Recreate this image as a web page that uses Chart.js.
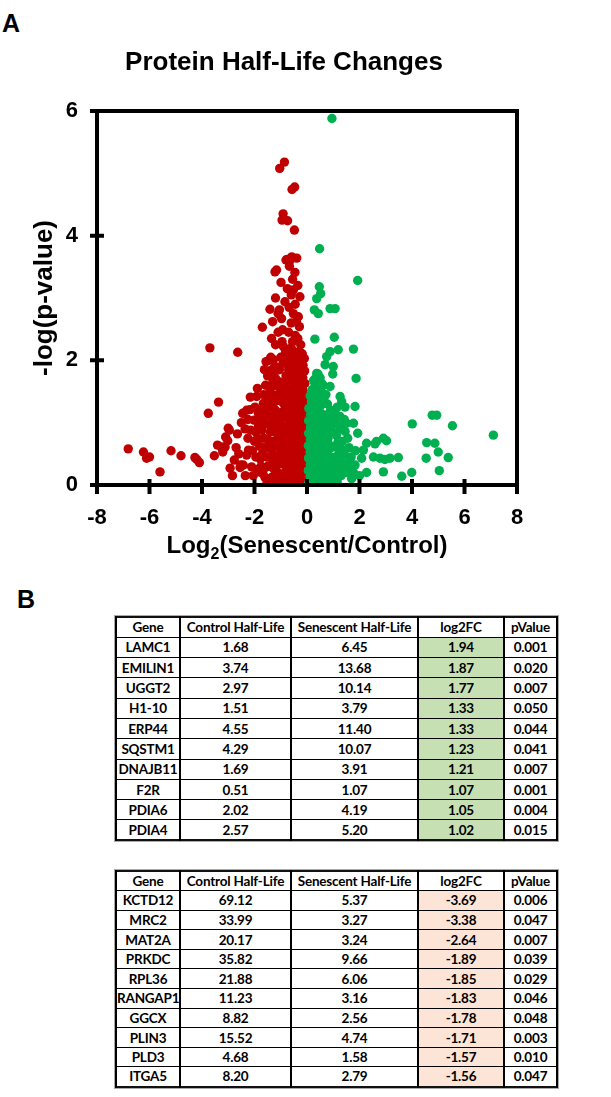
<!DOCTYPE html>
<html>
<head>
<meta charset="utf-8">
<script src="https://cdn.jsdelivr.net/npm/chart.js@4.4.0/dist/chart.umd.min.js"></script>
<style>
  body { margin: 0; width: 611px; height: 1097px; background: #fff; position: relative; overflow: hidden; font-family: "Liberation Sans", Arial, sans-serif; }
  #wrap { position: absolute; left: 0; top: 0; width: 611px; height: 575px; }
  .panel { position: absolute; font-weight: bold; font-size: 25px; line-height: 25px; }
  table.hl { position: absolute; left: 115px; width: 441px; border-collapse: collapse; table-layout: fixed;
             font-family: Lato, "Liberation Sans", sans-serif; font-weight: bold; font-size: 13.5px; letter-spacing: -0.2px; color: #000;
             border: 2px solid #111; outline: 1px solid #aaa; }
  table.hl td { border-top: 1px solid #000; border-bottom: 1px solid #000; border-left: 2px solid #000; border-right: 2px solid #000;
                text-align: center; padding: 0; white-space: nowrap; overflow: hidden; }
</style>
</head>
<body>
<div class="panel" style="left:2px;top:11px">A</div>
<div class="panel" style="left:17px;top:587px">B</div>
<div id="wrap"><canvas id="volcano" width="611" height="575"></canvas></div>
<table class="hl" id="tblUp" style="top:616px"></table>
<table class="hl" id="tblDown" style="top:870px"></table>

<script>
// axis ticks
const xTicks = [-8, -6, -4, -2, 0, 2, 4, 6, 8];
const yTicks = [0, 2, 4, 6];

// log2FC > 0 (longer half-life in senescent) - green
const upPts = [
  [0.95,5.88],[0.48,3.79],[1.93,3.28],[0.47,3.18],[0.52,3.07],[0.37,2.99],[0.28,2.81],[0.43,2.75],[0.88,2.83],[1.07,2.83],
  [0.30,2.34],[1.04,2.37],[1.19,2.17],[1.77,2.18],[0.88,2.14],[0.75,2.06],[0.69,1.93],[1.00,1.90],[0.98,1.78],[1.87,1.71],
  [0.37,1.79],[0.30,1.66],[0.56,1.63],[0.88,1.58],[0.24,1.52],[1.26,1.42],[1.32,1.34],[1.83,1.26],
  [4.77,1.12],[4.94,1.12],[4.01,0.98],[5.54,0.95],[7.10,0.80],[1.77,0.99],[1.93,0.83],[4.56,0.68],[4.87,0.67],[5.00,0.53],
  [4.54,0.43],[5.38,0.44],[5.04,0.23],[3.99,0.20],[3.61,0.14],[3.48,0.44],[3.16,0.43],[3.03,0.71],[2.91,0.75],[2.65,0.70],
  [2.59,0.66],[2.27,0.67],[2.15,0.56],[2.08,0.43],[2.27,0.20],[2.91,0.21],[2.78,0.43],[2.53,0.45],[2.97,0.41],[1.77,0.20],
  [1.83,0.32],[1.57,0.37],[1.38,0.56],[1.32,0.47],[1.19,0.70],[1.51,0.99],[1.45,0.86],[1.07,1.15],[1.19,1.10],
  [0.95,0.30],[1.05,0.12],[1.10,0.45],[1.20,0.25],[1.30,0.15],[0.98,0.85],[1.02,1.00],[1.12,0.80],[0.90,1.20],[0.78,1.30],
  [0.72,1.45],[0.92,0.60],[1.05,0.62],[1.15,1.25],[1.25,1.10],[1.42,1.05],[1.50,0.20],[1.62,0.28],[0.70,1.00],[0.80,0.92],[0.85,1.10],
  [0.95,0.05],[0.98,0.20],[0.92,0.45],[0.80,0.75],[0.88,0.85],[0.75,0.95],[0.70,1.12],[0.60,1.30],[0.55,1.50],[0.62,1.60],
  [0.65,1.40],[0.35,1.72],[0.25,1.68],[1.15,0.05],[1.22,0.52],[1.32,0.35],[1.42,0.50],[1.35,0.70],[1.28,0.90],[1.45,1.25],
  [1.60,0.60],[1.70,0.10],[1.10,0.98],[1.55,0.75],[1.68,0.45],[1.25,0.60],[1.40,0.25],[1.12,0.35],[1.85,0.55],[2.00,0.15],[1.35,0.95],
  [0.06,0.03],[0.25,0.02],[0.45,0.04],[0.64,0.03],[0.84,0.05],
  [0.12,0.13],[0.33,0.12],[0.53,0.14],[0.73,0.12],[0.90,0.14],
  [0.05,0.23],[0.24,0.22],[0.44,0.24],[0.63,0.22],[0.83,0.23],
  [0.13,0.33],[0.33,0.32],[0.54,0.34],[0.74,0.32],[0.92,0.33],
  [0.06,0.43],[0.25,0.42],[0.45,0.44],[0.65,0.42],[0.85,0.44],
  [0.12,0.53],[0.34,0.52],[0.55,0.54],[0.75,0.52],
  [0.05,0.63],[0.24,0.62],[0.45,0.64],[0.66,0.62],[0.86,0.64],
  [0.13,0.73],[0.34,0.72],[0.55,0.74],[0.72,0.72],
  [0.06,0.83],[0.25,0.82],[0.46,0.84],[0.63,0.82],
  [0.13,0.93],[0.34,0.92],[0.54,0.94],
  [0.06,1.03],[0.26,1.02],[0.46,1.04],[0.62,1.02],
  [0.14,1.13],[0.35,1.12],[0.55,1.14],
  [0.07,1.23],[0.27,1.22],[0.47,1.24],
  [0.17,1.33],[0.38,1.32],
  [0.12,1.43],[0.32,1.44],[0.50,1.42],
  [0.20,1.53],[0.40,1.52],
  [0.30,1.63],[0.45,1.68],[0.42,1.78],[0.50,1.72]
];

// log2FC < 0 (shorter half-life in senescent) - red
const downPts = [
  [-0.86,5.18],[-1.04,5.08],[-0.57,4.74],[-0.47,4.78],[-0.91,4.35],[-0.95,4.25],[-0.74,4.24],[-0.48,4.09],
  [-0.75,3.62],[-0.65,3.60],[-0.80,3.61],[-0.67,3.51],[-0.58,3.66],[-0.46,3.41],[-0.39,3.64],[-1.22,3.42],[-1.16,3.45],
  [-0.99,3.25],[-0.52,3.13],[-0.27,3.02],[-0.84,2.94],[-1.05,2.81],[-0.97,2.67],[-0.93,2.49],[-0.90,2.22],[-0.33,2.70],
  [-0.29,2.54],[-0.24,2.25],[-0.20,2.11],
  [-6.81,0.58],[-6.23,0.53],[-6.11,0.43],[-6.00,0.45],[-5.60,0.21],[-5.18,0.55],[-4.80,0.47],[-4.27,0.44],[-4.20,0.41],[-4.10,0.36],
  [-3.70,2.20],[-3.76,1.15],[-3.37,1.33],[-3.53,0.47],[-3.41,0.64],[-3.21,0.53],[-3.12,0.61],[-3.02,0.71],[-2.96,0.88],[-2.93,0.27],
  [-2.84,0.15],[-2.77,0.40],[-3.00,0.91],[-3.10,0.77],[-3.27,0.61],
  [-2.64,2.13],[-2.45,1.15],[-2.36,0.90],[-2.43,0.32],[-2.23,0.56],[-2.17,1.21],[-2.11,0.29],[-2.02,1.04],[-1.89,1.55],[-1.92,1.42],
  [-1.85,0.94],[-1.82,0.21],[-2.16,1.41],[-2.52,0.32],
  [-1.70,2.53],[-1.66,1.31],[-1.56,1.98],[-1.54,1.34],[-1.60,0.12],[-1.54,0.45],[-1.47,0.72],[-1.41,2.82],[-1.38,0.94],[-1.31,2.62],
  [-1.28,2.01],[-1.26,1.78],[-1.09,1.58],[-1.09,0.03],
  [-1.45,2.00],[-1.38,2.05],[-1.33,1.85],[-1.22,1.90],[-1.18,1.70],[-1.25,1.60],[-1.12,1.45],[-1.30,1.30],[-1.20,1.20],[-1.42,1.10],
  [-1.35,0.98],[-1.15,1.00],[-1.25,0.85],[-1.45,0.60],[-1.30,0.50],[-1.20,0.62],[-1.40,0.30],[-1.25,0.25],[-1.35,0.12],[-1.15,0.08],
  [-1.05,0.35],[-1.10,0.75],[-1.05,1.15],[-1.00,1.35],[-1.02,1.65],[-1.05,1.85],[-1.00,2.05],[-0.95,2.30],[-1.10,2.45],[-0.98,0.55],
  [-1.00,0.15],[-1.65,0.75],[-1.70,0.50],[-1.75,0.30],[-1.60,0.98],[-1.55,1.15],[-1.72,1.05],[-1.80,0.62],[-1.95,0.45],[-2.00,0.70],
  [-1.90,0.25],[-2.05,0.15],[-2.25,0.75],[-2.30,0.48],[-2.60,0.50],[-2.55,0.28],[-2.70,0.60],[-2.50,1.00],[-2.30,1.20],[-2.25,1.05],
  [-1.85,1.15],[-1.75,1.20],[-1.58,1.60],[-1.50,1.75],[-1.62,1.85],[-1.35,2.35],[-1.20,2.25],[-1.10,2.75],[-1.20,3.00],
  [-0.55,2.30],[-0.45,2.40],[-0.35,2.35],[-0.70,2.45],[-0.60,2.60],[-0.40,2.62],[-0.52,2.75],[-0.68,2.85],[-0.45,2.90],[-0.60,3.05],
  [-0.35,3.20],[-0.75,3.15],[-0.55,3.30],
  [-1.05,0.05],[-1.15,0.22],[-1.08,0.45],[-1.12,0.65],[-1.02,0.85],[-1.14,0.92],[-1.00,1.05],[-0.90,1.18],[-0.88,1.30],[-0.92,1.50],
  [-0.85,1.62],[-0.80,1.75],[-0.72,1.68],[-0.70,1.85],[-0.75,1.98],[-0.68,2.10],[-0.60,2.20],[-0.82,2.12],[-0.92,1.95],[-0.86,1.42],
  [-0.90,0.02],[-1.20,0.40],[-1.30,0.70],[-1.40,0.85],[-1.50,0.30],[-1.62,0.60],[-1.28,1.12],[-1.18,1.35],[-1.40,1.50],[-1.30,1.65],
  [-1.95,0.85],[-1.78,0.42],[-1.68,0.18],[-1.52,0.05],[-1.45,0.45],[-1.58,0.28],[-1.88,0.75],[-2.08,0.55],[-1.72,0.88],[-1.48,1.25],
  [-1.65,1.45],[-1.38,1.38],[-1.32,0.35],[-1.22,0.05],[-2.15,0.88],[-2.35,0.15],[-2.65,0.82],[-1.98,1.25],
  [-0.08,0.03],[-0.27,0.02],[-0.46,0.04],[-0.66,0.03],[-0.86,0.05],
  [-0.12,0.12],[-0.33,0.13],[-0.52,0.11],[-0.74,0.14],[-0.93,0.12],
  [-0.06,0.23],[-0.24,0.21],[-0.44,0.22],[-0.63,0.24],[-0.83,0.21],
  [-0.14,0.32],[-0.35,0.33],[-0.55,0.31],[-0.76,0.32],[-0.95,0.34],
  [-0.07,0.43],[-0.26,0.41],[-0.47,0.42],[-0.67,0.44],[-0.88,0.42],
  [-0.15,0.52],[-0.36,0.53],[-0.57,0.51],[-0.78,0.53],[-0.97,0.52],
  [-0.06,0.63],[-0.25,0.61],[-0.45,0.62],[-0.64,0.64],[-0.86,0.62],
  [-0.13,0.72],[-0.34,0.73],[-0.54,0.71],[-0.75,0.74],[-0.93,0.73],
  [-0.07,0.83],[-0.27,0.81],[-0.46,0.82],[-0.66,0.83],[-0.85,0.81],
  [-0.14,0.92],[-0.35,0.93],[-0.56,0.91],[-0.77,0.93],[-0.95,0.95],
  [-0.06,1.03],[-0.26,1.01],[-0.47,1.02],[-0.68,1.04],
  [-0.15,1.12],[-0.36,1.13],[-0.57,1.11],[-0.80,1.13],
  [-0.07,1.23],[-0.27,1.21],[-0.48,1.22],[-0.69,1.24],
  [-0.14,1.32],[-0.35,1.33],[-0.56,1.31],[-0.76,1.34],
  [-0.06,1.43],[-0.26,1.41],[-0.46,1.42],[-0.66,1.44],
  [-0.15,1.52],[-0.36,1.53],[-0.57,1.51],[-0.75,1.55],
  [-0.08,1.63],[-0.28,1.61],[-0.48,1.62],
  [-0.16,1.72],[-0.37,1.73],[-0.58,1.71],
  [-0.09,1.83],[-0.28,1.81],[-0.49,1.82],
  [-0.15,1.92],[-0.36,1.93],[-0.56,1.91],
  [-0.10,2.03],[-0.30,2.01],[-0.50,2.02],
  [-0.18,2.10],[-0.40,2.13]
];

// table B values
const tblHeader = ['Gene', 'Control Half-Life', 'Senescent Half-Life', 'log2FC', 'pValue'];
const upGenes = ['LAMC1', 'EMILIN1', 'UGGT2', 'H1-10', 'ERP44', 'SQSTM1', 'DNAJB11', 'F2R', 'PDIA6', 'PDIA4'];
const upControl = ['1.68', '3.74', '2.97', '1.51', '4.55', '4.29', '1.69', '0.51', '2.02', '2.57'];
const upSenescent = ['6.45', '13.68', '10.14', '3.79', '11.40', '10.07', '3.91', '1.07', '4.19', '5.20'];
const upLog2fc = ['1.94', '1.87', '1.77', '1.33', '1.33', '1.23', '1.21', '1.07', '1.05', '1.02'];
const upPval = ['0.001', '0.020', '0.007', '0.050', '0.044', '0.041', '0.007', '0.001', '0.004', '0.015'];
const downGenes = ['KCTD12', 'MRC2', 'MAT2A', 'PRKDC', 'RPL36', 'RANGAP1', 'GGCX', 'PLIN3', 'PLD3', 'ITGA5'];
const downControl = ['69.12', '33.99', '20.17', '35.82', '21.88', '11.23', '8.82', '15.52', '4.68', '8.20'];
const downSenescent = ['5.37', '3.27', '3.24', '9.66', '6.06', '3.16', '2.56', '4.74', '1.58', '2.79'];
const downLog2fc = ['-3.69', '-3.38', '-2.64', '-1.89', '-1.85', '-1.83', '-1.78', '-1.71', '-1.57', '-1.56'];
const downPval = ['0.006', '0.047', '0.007', '0.039', '0.029', '0.046', '0.048', '0.003', '0.010', '0.047'];

const colWidths = [64, 111, 127, 86, 53];

function buildTable(el, genes, ctrl, sen, fc, pv, fcColor, rowH) {
  let html = '<colgroup>' + colWidths.map(w => `<col style="width:${w}px">`).join('') + '</colgroup>';
  html += `<tr style="height:${rowH}px">` + tblHeader.map(h => `<td>${h}</td>`).join('') + '</tr>';
  genes.forEach((g, i) => {
    html += `<tr style="height:${rowH}px"><td>${g}</td><td>${ctrl[i]}</td><td>${sen[i]}</td>` +
            `<td style="background:${fcColor}">${fc[i]}</td><td>${pv[i]}</td></tr>`;
  });
  el.innerHTML = html;
}
buildTable(document.getElementById('tblUp'), upGenes, upControl, upSenescent, upLog2fc, upPval, '#C6E0B4', 20.3);
buildTable(document.getElementById('tblDown'), downGenes, downControl, downSenescent, downLog2fc, downPval, '#FCE4D6', 19.6);

const FONT = '"Liberation Sans", Arial, sans-serif';

// frame, crossing tick marks and titles
const decor = {
  id: 'decor',
  afterDatasetsDraw(chart) {
    const { ctx, chartArea: a, scales: { x, y } } = chart;
    ctx.save();
    ctx.strokeStyle = '#000';
    ctx.lineWidth = 4;
    ctx.strokeRect(a.left, a.top, a.right - a.left, a.bottom - a.top);
    ctx.beginPath();
    xTicks.forEach(v => {
      const p = x.getPixelForValue(v);
      ctx.moveTo(p, a.bottom - 6);
      ctx.lineTo(p, a.bottom + 9);
    });
    yTicks.forEach(v => {
      const p = y.getPixelForValue(v);
      ctx.moveTo(a.left - 7, p);
      ctx.lineTo(a.left + 7, p);
    });
    ctx.stroke();
    ctx.restore();
  },
  afterDraw(chart) {
    const { ctx, chartArea: a } = chart;
    ctx.save();
    ctx.fillStyle = '#000';
    ctx.textAlign = 'center';
    ctx.textBaseline = 'alphabetic';
    ctx.font = `bold 26px ${FONT}`;
    ctx.fillText('Protein Half-Life Changes', 284, 70);

    // y title
    ctx.save();
    ctx.translate(45, (a.top + a.bottom) / 2);
    ctx.rotate(-Math.PI / 2);
    ctx.textBaseline = 'middle';
    ctx.font = `bold 26px ${FONT}`;
    ctx.fillText('-log(p-value)', 0, 0);
    ctx.restore();

    // x title with subscript
    const big = `bold 24px ${FONT}`, small = `bold 16px ${FONT}`;
    ctx.font = big;
    const w1 = ctx.measureText('Log').width;
    const w3 = ctx.measureText('(Senescent/Control)').width;
    ctx.font = small;
    const w2 = ctx.measureText('2').width;
    let xs = (a.left + a.right) / 2 - (w1 + w2 + w3) / 2;
    const base = 553;
    ctx.textAlign = 'left';
    ctx.font = big;
    ctx.fillText('Log', xs, base);
    xs += w1;
    ctx.font = small;
    ctx.fillText('2', xs, base + 6);
    xs += w2;
    ctx.font = big;
    ctx.fillText('(Senescent/Control)', xs, base);
    ctx.restore();
  }
};

const toXY = pts => pts.map(p => ({ x: p[0], y: p[1] }));

new Chart(document.getElementById('volcano'), {
  type: 'scatter',
  data: {
    datasets: [
      { label: 'Up', data: toXY(upPts), backgroundColor: '#00B050', borderWidth: 0, pointRadius: 4.7, pointHoverRadius: 4.7 },
      { label: 'Down', data: toXY(downPts), backgroundColor: '#C00000', borderWidth: 0, pointRadius: 4.7, pointHoverRadius: 4.7 }
    ]
  },
  options: {
    responsive: false,
    animation: false,
    devicePixelRatio: 1,
    layout: { padding: { left: 57, right: 94, top: 111, bottom: 50 } },
    plugins: { legend: { display: false }, tooltip: { enabled: false }, title: { display: false } },
    scales: {
      x: {
        type: 'linear', min: -8, max: 8,
        afterBuildTicks: s => { s.ticks = xTicks.map(v => ({ value: v })); },
        afterFit: s => { s.height = 40; },
        grid: { display: false, drawTicks: false },
        border: { display: false },
        ticks: { color: '#000', padding: 20, font: { family: FONT, size: 22, weight: 'bold' } }
      },
      y: {
        type: 'linear', min: 0, max: 6,
        afterBuildTicks: s => { s.ticks = yTicks.map(v => ({ value: v })); },
        afterFit: s => { s.width = 40; },
        grid: { display: false, drawTicks: false },
        border: { display: false },
        ticks: { color: '#000', padding: 19, font: { family: FONT, size: 22, weight: 'bold' } }
      }
    }
  },
  plugins: [decor]
});
</script>
</body>
</html>
